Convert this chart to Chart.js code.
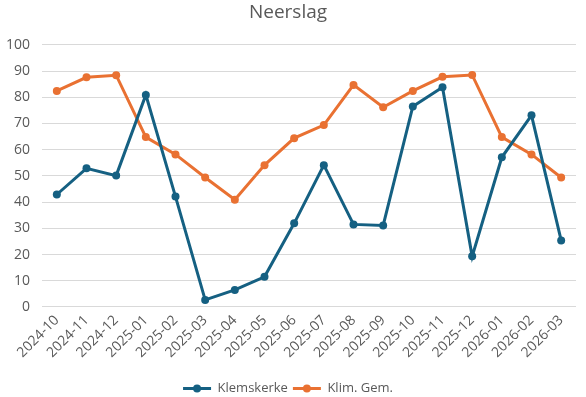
<!DOCTYPE html>
<html>
<head>
<meta charset="utf-8">
<script src="https://cdn.jsdelivr.net/npm/chart.js@4"></script>
<style>
html,body{margin:0;padding:0;background:#fff;}
#wrap{width:586px;height:397px;position:relative;}
</style>
</head>
<body>
<div id="wrap"><canvas id="c" width="586" height="397"></canvas></div>
<script>
const categories = ["2024-10","2024-11","2024-12","2025-01","2025-02","2025-03","2025-04","2025-05","2025-06","2025-07","2025-08","2025-09","2025-10","2025-11","2025-12","2026-01","2026-02","2026-03"];
const klemskerke = [42.9,52.9,50.1,80.9,42.1,2.7,6.5,11.5,31.9,54.1,31.5,31.1,76.5,83.8,19.3,57.1,73.1,25.4];
const klimGem = [82.4,87.6,88.4,64.8,58.2,49.4,40.9,54.1,64.4,69.4,84.7,76.2,82.4,87.8,88.5,64.8,58.2,49.4];
const yTicks = [0,10,20,30,40,50,60,70,80,90,100];

const FONT = "'Open Sans', 'Liberation Sans', sans-serif";
const GREY = '#595959';

const legendMarkers = {
  id: 'legendMarkers',
  afterDraw(chart) {
    const lg = chart.legend;
    if (!lg || !lg.legendHitBoxes) return;
    const ctx = chart.ctx;
    lg.legendHitBoxes.forEach((hb, i) => {
      const ds = chart.data.datasets[i];
      const cx = hb.left + lg.options.labels.boxWidth / 2;
      const cy = hb.top + hb.height / 2;
      ctx.save();
      ctx.fillStyle = ds.borderColor;
      ctx.beginPath();
      ctx.arc(cx, cy, 4, 0, Math.PI * 2);
      ctx.fill();
      ctx.restore();
    });
  }
};

new Chart(document.getElementById('c'), {
  type: 'line',
  data: {
    labels: categories,
    datasets: [
      { label: 'Klemskerke', data: klemskerke, borderColor: '#156082', backgroundColor: '#156082',
        borderWidth: 3, pointRadius: 4, pointBackgroundColor: '#156082', pointBorderWidth: 0, tension: 0 },
      { label: 'Klim. Gem.', data: klimGem, borderColor: '#E97132', backgroundColor: '#E97132',
        borderWidth: 3, pointRadius: 4, pointBackgroundColor: '#E97132', pointBorderWidth: 0, tension: 0 }
    ]
  },
  options: {
    responsive: false,
    animation: false,
    devicePixelRatio: 1,
    layout: { padding: { left: 0, right: 10, top: 0, bottom: -8 } },
    plugins: {
      title: { display: true, text: 'Neerslag', color: GREY, font: { family: FONT, size: 19, weight: 'normal' }, padding: { top: 1, bottom: 21 } },
      legend: {
        position: 'bottom',
        labels: {
          color: GREY, font: { family: FONT, size: 13 },
          boxWidth: 28, boxHeight: 3, padding: 5,
          generateLabels(chart) {
            return chart.data.datasets.map((ds, i) => ({
              text: ds.label, fillStyle: ds.borderColor, strokeStyle: ds.borderColor,
              lineWidth: 0, fontColor: GREY, datasetIndex: i, hidden: false
            }));
          }
        }
      },
      tooltip: { enabled: false }
    },
    scales: {
      x: {
        offset: true,
        afterFit(axis) { axis.height += 11; },
        grid: { display: false, drawTicks: false },
        border: { display: false },
        ticks: { color: GREY, font: { family: FONT, size: 14 }, minRotation: 45, maxRotation: 45, padding: 5 }
      },
      y: {
        min: 0, max: 100,
        afterBuildTicks(axis) { axis.ticks = yTicks.map(v => ({ value: v })); },
        afterFit(axis) { axis.width = 42; },
        grid: { color: '#d9d9d9', drawTicks: false, lineWidth: 1 },
        border: { display: false },
        ticks: { color: GREY, font: { family: FONT, size: 14 }, padding: 12 }
      }
    }
  },
  plugins: [legendMarkers]
});
</script>
</body>
</html>
